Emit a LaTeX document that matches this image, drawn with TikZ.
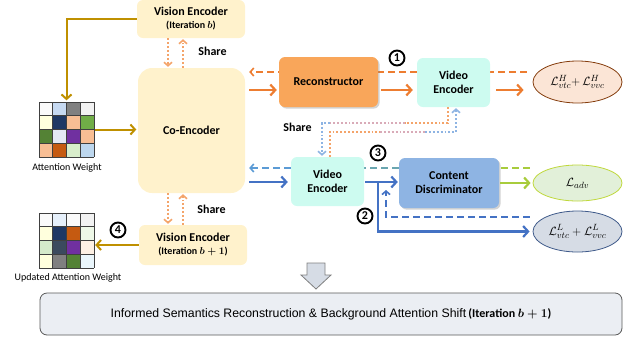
\documentclass[tikz,border=0pt]{standalone}
\usepackage{amsmath,bm}
\usepackage{fontspec}
\setmainfont{Carlito}
\newfontfamily\arialfont{Liberation Sans}
\usetikzlibrary{arrows.meta,shapes.geometric,shadows,backgrounds}

% box fills
\definecolor{vencfill}{HTML}{FFF2CC}
\definecolor{recfill}{HTML}{F9A65A}
\definecolor{vidfill}{HTML}{CDFBF0}
\definecolor{discfill}{HTML}{8EB4E3}
\definecolor{botfill}{HTML}{EBEEF3}
\definecolor{botdraw}{HTML}{595959}
\definecolor{arrfill}{HTML}{D6DCE5}
\definecolor{arrdraw}{HTML}{7F7F7F}
% loss ellipses
\definecolor{lhfill}{HTML}{FBE5D6}
\definecolor{lhdraw}{HTML}{843C0C}
\definecolor{ladvfill}{HTML}{E2F0D9}
\definecolor{ladvdraw}{HTML}{BFD83B}
\definecolor{llfill}{HTML}{D6DCE5}
\definecolor{lldraw}{HTML}{3F5A8A}
% connector colours
\definecolor{orangeA}{HTML}{ED7D31}
\definecolor{orangeD}{HTML}{F4A46A}
\definecolor{blueA}{HTML}{4472C4}
\definecolor{blueL}{HTML}{5B9BD5}
\definecolor{blueD}{HTML}{8EB4E3}
\definecolor{mauveD}{HTML}{D9ABB8}
\definecolor{tealD}{HTML}{6AA6B0}
\definecolor{greenA}{HTML}{A8CC3C}
\definecolor{gold}{HTML}{BF9000}
\definecolor{gridline}{HTML}{404040}
% attention weight cells
\definecolor{a11}{HTML}{FAFAFA}\definecolor{a12}{HTML}{C6D9F1}\definecolor{a13}{HTML}{808080}\definecolor{a14}{HTML}{F2F2F2}
\definecolor{a21}{HTML}{FFFFDD}\definecolor{a22}{HTML}{1F3864}\definecolor{a23}{HTML}{F8BE94}\definecolor{a24}{HTML}{70AD47}
\definecolor{a31}{HTML}{548235}\definecolor{a32}{HTML}{E4E8F5}\definecolor{a33}{HTML}{7030A0}\definecolor{a34}{HTML}{F8BE94}
\definecolor{a41}{HTML}{F8BE94}\definecolor{a42}{HTML}{C55A11}\definecolor{a43}{HTML}{D8EDCB}\definecolor{a44}{HTML}{BDD7EE}
% updated attention weight cells
\definecolor{b11}{HTML}{FAFAFA}\definecolor{b12}{HTML}{E6F0FB}\definecolor{b13}{HTML}{FAFAFA}\definecolor{b14}{HTML}{F2F2F2}
\definecolor{b21}{HTML}{FFFFDD}\definecolor{b22}{HTML}{1F3864}\definecolor{b23}{HTML}{C55A11}\definecolor{b24}{HTML}{EEF8E8}
\definecolor{b31}{HTML}{D5EACB}\definecolor{b32}{HTML}{3B4A5E}\definecolor{b33}{HTML}{7030A0}\definecolor{b34}{HTML}{FDF0E4}
\definecolor{b41}{HTML}{FFFFDD}\definecolor{b42}{HTML}{808080}\definecolor{b43}{HTML}{548235}\definecolor{b44}{HTML}{EAF6FC}

% iteration tag under a block title (#1 = size, #2 = iteration index)
\newcommand\itertag[2]{{\bfseries\boldmath\fontsize{#1}{#1}\selectfont(Iteration $#2$)}}

% 4x4 weight grid: #1,#2 = top-left corner, #3 = colour prefix
\newcommand\weightgrid[3]{%
  \foreach \r in {1,...,4}{
    \foreach \c in {1,...,4}{
      \fill[#3\r\c] (#1+\c*13.75-13.75,#2+\r*13.75-13.75) rectangle ++(13.75,13.75);
    }
  }
  \foreach \k in {0,...,4}{
    \draw[gridline,line width=0.6pt] (#1+\k*13.75,#2) -- ++(0,55);
    \draw[gridline,line width=0.6pt] (#1,#2+\k*13.75) -- ++(55,0);
  }
}

\begin{document}
\begin{tikzpicture}[x=1pt,y=-1pt,
  lbl/.style={font=\bfseries\fontsize{12}{14}\selectfont, align=center},
  blk/.style={lbl, rounded corners=6pt, inner sep=0pt},
  loss/.style={ellipse, inner sep=0pt, line width=0.8pt, minimum width=89pt,
    font=\fontsize{13}{15}\selectfont},
  shade/.style={drop shadow={shadow xshift=1.6pt, shadow yshift=-1.6pt, opacity=0.35}},
  tip/.style={-{Straight Barb[length=5pt,width=11pt,line width=2.2pt]}},
  smalltip/.style={-{Straight Barb[length=3.5pt,width=8pt,line width=1.6pt]}},
  oarr/.style={orangeA, line width=2.4pt, tip},
  barr/.style={blueA, line width=2.4pt, tip},
  garr/.style={greenA, line width=2.4pt, tip},
  goldarr/.style={gold, line width=2pt, -{Straight Barb[length=4.5pt,width=10pt,line width=2pt]}},
  dashline/.style={line width=2pt, dash pattern=on 7pt off 4pt},
  dotline/.style={line width=1.9pt, dash pattern=on 1.9pt off 2pt},
  num/.style={circle, draw, line width=1.9pt, inner sep=0pt, minimum size=15pt,
    font=\bfseries\fontsize{12}{12}\selectfont},
  caption/.style={font=\fontsize{10}{12}\selectfont}
]
\useasboundingbox (0,0) rectangle (632,341);

% ---------- blocks ----------
\node[blk, fill=vencfill, minimum width=108pt, minimum height=38pt] (vtop) at (191,19)
  {Vision Encoder\\[-1pt]\itertag{10}{b}};
\node[blk, fill=vencfill, rounded corners=14pt, minimum width=107pt, minimum height=125pt]
  (coenc) at (191.5,130.5) {Co-Encoder};
\node[blk, fill=recfill, shade, minimum width=99pt, minimum height=50pt] (rec) at (328.5,82)
  {Reconstructor};
\node[blk, fill=vidfill, minimum width=73pt, minimum height=49pt] (vid1) at (453.5,82.5)
  {Video\\Encoder};
\node[blk, fill=vidfill, minimum width=73pt, minimum height=49pt] (vid2) at (327.5,181.5)
  {Video\\Encoder};
\node[blk, fill=discfill, shade, minimum width=100pt, minimum height=50pt] (disc) at (449,183)
  {Content\\Discriminator};
\node[blk, fill=vencfill, minimum width=108pt, minimum height=40pt] (vbot) at (193,245)
  {Vision Encoder\\[-1pt]\itertag{10}{b+1}};

% ---------- losses ----------
\node[loss, fill=lhfill, draw=lhdraw, minimum height=42pt] (lh) at (577.5,82)
  {$\mathcal{L}^{H}_{vtc}{+}\,\mathcal{L}^{H}_{vvc}$};
\node[loss, fill=ladvfill, draw=ladvdraw, minimum height=36pt] (ladv) at (577.5,183)
  {$\mathcal{L}_{adv}$};
\node[loss, fill=llfill, draw=lldraw, minimum height=41pt] (ll) at (577.5,231.5)
  {$\mathcal{L}^{L}_{vtc}+\mathcal{L}^{L}_{vvc}$};

% ---------- attention weights ----------
\weightgrid{39}{102}{a}
\node[minimum size=55pt, inner sep=0pt] (att) at (66.5,129.5) {};
\node[caption] (attl) at (67,168) {Attention Weight};
\weightgrid{39}{213}{b}
\node[minimum size=55pt, inner sep=0pt] (att2) at (66.5,240.5) {};
\node[caption] (att2l) at (68,277.5) {Updated Attention Weight};

% ---------- summary ----------
\draw[fill=arrfill, draw=arrdraw, line width=0.8pt]
  (307,263) -- (325,263) -- (325,275) -- (331,275) -- (316,289) -- (301,275) -- (307,275) -- cycle;
\node[draw=botdraw, fill=botfill, rounded corners=7pt, line width=0.8pt,
  minimum width=582pt, minimum height=42pt] (sum) at (331,314)
  {{\arialfont\fontsize{12.3}{14}\selectfont Informed Semantics Reconstruction \& Background Attention Shift}
   \itertag{12}{b+1}};

% ---------- helper rows / columns ----------
\coordinate (yO) at (0,72);   \coordinate (yS) at (0,90);
\coordinate (yBd) at (0,168); \coordinate (yBs) at (0,182);
\coordinate (yB2) at (0,217);
\coordinate (sx1) at (168,0); \coordinate (sx2) at (183,0);
\coordinate (br) at (378,182); \coordinate (fb) at (386,190);
\coordinate (xa1) at (448,0); \coordinate (xa2) at (322,0);
\coordinate (xb1) at (330,0); \coordinate (xb2) at (456,0);
\coordinate (ya) at (0,123);  \coordinate (yb) at (0,132);
\coordinate (ma) at (405,123); \coordinate (mb1) at (380,132); \coordinate (mb2) at (425,132);

% ---------- return paths behind the blocks ----------
\begin{scope}[on background layer]
  \draw[orangeA, dashline, smalltip, shorten <=6pt, shorten >=4pt] (lh.west |- yO) -- (coenc.east |- yO);
  \draw[greenA, dashline, shorten <=3pt] (ladv.west |- yBd) -- (disc.east |- yBd);
  \draw[tealD, dashline] (disc.west |- yBd) -- (vid2.east |- yBd);
  \draw[blueL, dashline, smalltip, shorten >=4pt] (vid2.west |- yBd) -- (coenc.east |- yBd);
\end{scope}

% ---------- forward paths ----------
\draw[oarr, shorten <=4pt, shorten >=2pt] (coenc.east |- yS) -- (rec.west |- yS);
\draw[oarr, shorten <=3pt, shorten >=4pt] (rec.east |- yS) -- (vid1.west |- yS);
\draw[oarr, shorten <=6pt, shorten >=9pt] (vid1.east |- yS) -- (lh.west |- yS);

\draw[barr, shorten <=4pt, shorten >=3pt] (coenc.east |- yBs) -- (vid2.west |- yBs);
\draw[barr, shorten <=1pt, shorten >=1pt] (vid2.east |- yBs) -- (disc.west |- yBs);
\draw[barr, shorten >=3pt] (br) |- (ll.west);
\draw[blueA, dashline, smalltip, shorten <=3pt] (ll.west |- yB2) -| (fb);
\draw[garr, shorten <=1pt, shorten >=2pt] (disc.east) -- (ladv.west);

% ---------- attention weight paths ----------
\draw[goldarr, shorten >=1.5pt] (vtop.west) -| (att.north);
\draw[goldarr, shorten <=1pt, shorten >=1.5pt] (att.east) -- (coenc.west |- att.east);
\draw[goldarr, shorten >=1pt] (vbot.west) -- (att2.east |- vbot.west);

% ---------- shared weights ----------
\draw[orangeD, dotline, smalltip, shorten >=1pt] (vtop.south -| sx1) -- (coenc.north -| sx1);
\draw[orangeD, dotline, smalltip, shorten >=1pt] (coenc.north -| sx2) -- (vtop.south -| sx2);
\draw[orangeD, dotline, smalltip, shorten >=1pt] (coenc.south -| sx1) -- (vbot.north -| sx1);
\draw[orangeD, dotline, smalltip, shorten >=1pt] (vbot.north -| sx2) -- (coenc.south -| sx2);

\draw[orangeD, dotline] (vid1.south -| xa1) -- (xa1 |- ya) -- (ma);
\draw[mauveD, dotline] (ma) -- (ma -| xb1);
\draw[blueD, dotline, smalltip, shorten >=1pt] (ma -| xb1) -- (xa2 |- ya) -- (vid2.north -| xa2);
\draw[orangeD, dotline] (vid2.north -| xb1) -- (xb1 |- yb) -- (mb1);
\draw[mauveD, dotline] (mb1) -- (mb2);
\draw[blueD, dotline, smalltip, shorten >=1pt] (mb2) -- (xb2 |- yb) -- (vid1.south -| xb2);

% ---------- labels ----------
\node[lbl] (sh1) at (212.5,51) {Share};
\node[lbl] (sh2) at (297.5,127.5) {Share};
\node[lbl] (sh3) at (211.5,209) {Share};
\node[num] (n1) at (397,58) {1};
\node[num] (n2) at (365,216) {2};
\node[num] (n3) at (378,153) {3};
\node[num] (n4) at (118,230) {4};
\end{tikzpicture}
\end{document}
